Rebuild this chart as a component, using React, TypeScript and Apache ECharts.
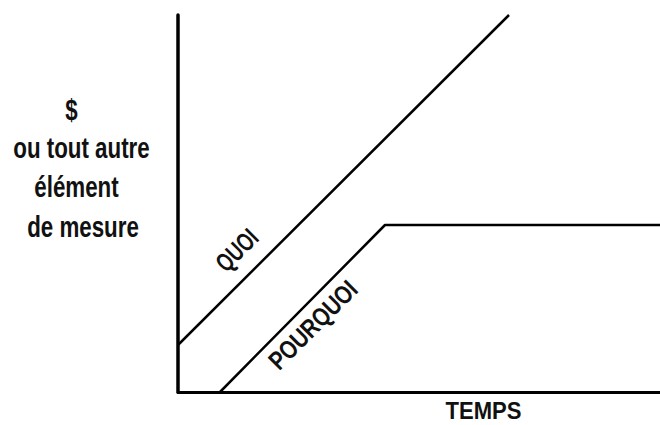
import React, { useEffect, useRef } from "react";
import * as echarts from "echarts";

// Abstract units (time on x, measure on y)
const xRange = [0, 482];
const yRange = [0, 377];
const quoiPoints: [number, number][] = [
  [0, 47],
  [331, 377],
];
const pourquoiPoints: [number, number][] = [
  [42, 0],
  [207, 167],
  [482, 167],
];
const yTitleLines = ["$", "ou tout autre", "élément", "de mesure"];
const xTitle = "TEMPS";
const seriesNames = ["QUOI", "POURQUOI"];

const FONT = "'Liberation Sans', Arial, sans-serif";

export default function App() {
  const ref = useRef<HTMLDivElement>(null);
  useEffect(() => {
    document.body.style.margin = "0";
    const chart = echarts.init(ref.current!, null, { renderer: "svg" });
    const yCenters = [71.5, 81.5, 76.5, 83];
    const yBaselines = [120, 158.5, 197.5, 237];
    const leftSize = 29;
    const textStyleBase = {
      fill: "#111",
      fontFamily: FONT,
      fontWeight: "bold",
    };
    chart.setOption({
      animation: false,
      backgroundColor: "#fff",
      grid: { left: 178, right: 0, top: 15, bottom: 33 },
      xAxis: {
        type: "value",
        min: xRange[0],
        max: xRange[1],
        axisLine: { show: true, lineStyle: { color: "#000", width: 3 } },
        axisTick: { show: false },
        axisLabel: { show: false },
        splitLine: { show: false },
      },
      yAxis: {
        type: "value",
        min: yRange[0],
        max: yRange[1],
        axisLine: { show: true, lineStyle: { color: "#000", width: 3.5 } },
        axisTick: { show: false },
        axisLabel: { show: false },
        splitLine: { show: false },
      },
      series: [
        {
          name: seriesNames[0],
          type: "line",
          data: quoiPoints,
          showSymbol: false,
          lineStyle: { color: "#000", width: 2.5 },
        },
        {
          name: seriesNames[1],
          type: "line",
          data: pourquoiPoints,
          showSymbol: false,
          lineStyle: { color: "#000", width: 2.5 },
        },
      ],
      graphic: [
        ...yTitleLines.map((t, i) => ({
          type: "text",
          x: yCenters[i],
          y: yBaselines[i] - 0.35 * leftSize,
          scaleX: 0.77,
          style: {
            ...textStyleBase,
            text: t,
            fontSize: leftSize,
            textAlign: "center",
            textVerticalAlign: "middle",
          },
        })),
        {
          type: "text",
          x: 483.5,
          y: 419 - 0.35 * 24,
          scaleX: 0.92,
          style: {
            ...textStyleBase,
            text: xTitle,
            fontSize: 24,
            textAlign: "center",
            textVerticalAlign: "middle",
          },
        },
        {
          type: "text",
          x: 236.7,
          y: 250,
          rotation: Math.PI / 4,
          scaleX: 0.72,
          style: {
            ...textStyleBase,
            text: seriesNames[0],
            fontSize: 26,
            textAlign: "center",
            textVerticalAlign: "middle",
          },
        },
        {
          type: "text",
          x: 313,
          y: 325,
          rotation: Math.PI / 4,
          scaleX: 0.8,
          style: {
            ...textStyleBase,
            text: seriesNames[1],
            fontSize: 26,
            textAlign: "center",
            textVerticalAlign: "middle",
          },
        },
      ],
    });
    return () => chart.dispose();
  }, []);
  return (
    <div
      ref={ref}
      style={{ position: "fixed", left: 0, top: 0, width: 660, height: 425, background: "#fff" }}
    />
  );
}
